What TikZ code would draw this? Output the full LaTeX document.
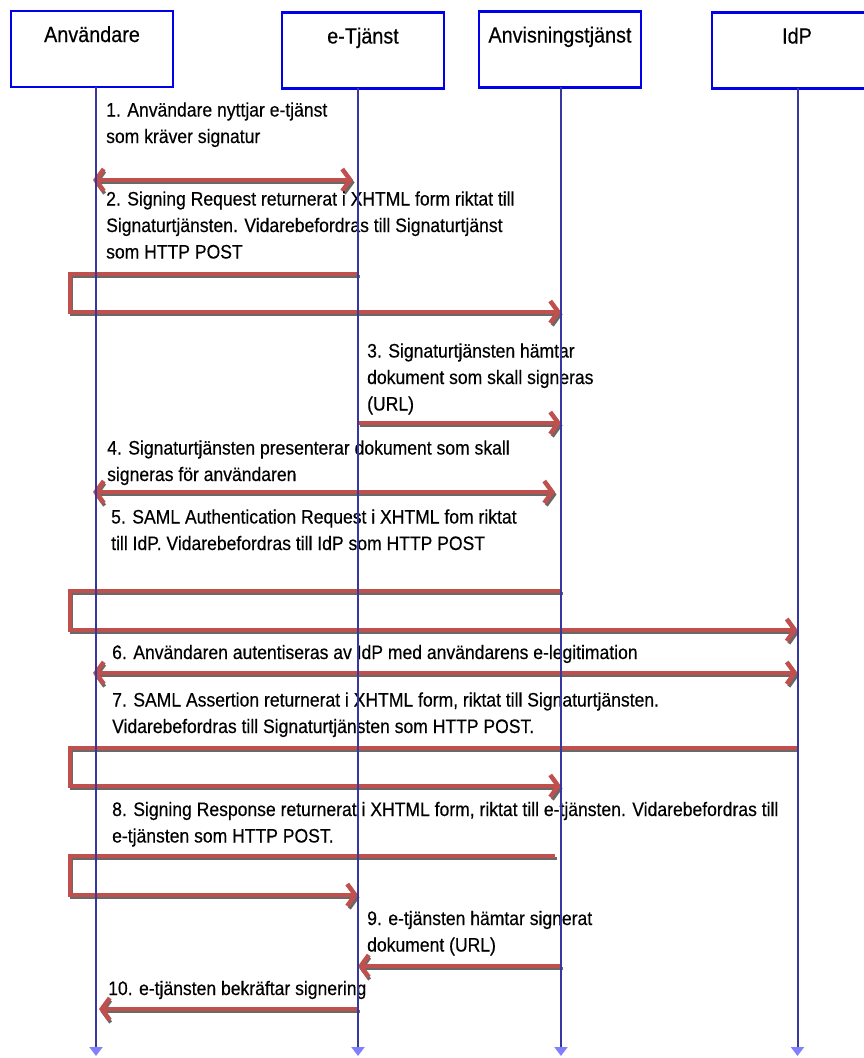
\documentclass[tikz,border=0pt]{standalone}
\usepackage{fontspec}
\setmainfont{Liberation Sans}[FakeStretch=0.9,FakeBold=0.4]
\usetikzlibrary{arrows.meta}
\definecolor{msgred}{RGB}{192,80,77}
\definecolor{shadowgray}{RGB}{105,105,105}
\definecolor{boxblue}{RGB}{0,0,235}
\definecolor{lifeblue}{RGB}{55,55,160}
\tikzset{
  actor/.style={draw=boxblue,line width=2.4pt,minimum width=162pt,minimum height=76pt,
    inner sep=0pt,text height=31pt,text depth=45pt,font=\fontsize{22}{26}\selectfont},
  lifeline/.style={draw=lifeblue,line width=2pt,-{Triangle[width=13pt,length=9pt,color=blue!50]}},
  msgtext/.style={anchor=base west,align=left,inner sep=0pt,font=\fontsize{19.5}{26.5}\selectfont},
  msgline/.style={draw=msgred,line width=4.5pt,
    preaction={draw=shadowgray,line width=3.5pt,transform canvas={shift={(1.5pt,-2.5pt)}}}},
  msg/.style={msgline,-{Straight Barb[length=8pt,width=22pt]}},
  msgboth/.style={msgline,{Straight Barb[length=8pt,width=22pt]}-{Straight Barb[length=8pt,width=22pt]}}
}
\begin{document}
\begin{tikzpicture}[x=1pt,y=-1pt]
  \useasboundingbox (0,0) rectangle (864,1058);
  % participants
  \node[actor] (user) at (92,49) {Användare};
  \node[actor] (etj) at (363,50.5) {e-Tjänst};
  \node[actor] (anv) at (560,49.5) {Anvisningstjänst};
  \node[actor,minimum width=170pt] (idp) at (797,50.5) {IdP};
  % lifeline heads, feet and loop column
  \coordinate (userL) at (96,87);
  \coordinate (etjL) at (358,88);
  \coordinate (anvL) at (561,87);
  \coordinate (idpL) at (797.5,88);
  \coordinate (foot) at (0,1056);
  \coordinate (loop) at (70,0);

  % 1 (text placed by its last baseline)
  \coordinate (y1) at (0,180);
  \node[msgtext] (t1) at (106,143) {1. Användare nyttjar e-tjänst\\som kräver signatur};
  \draw[msgboth,shorten >=5pt,shorten <=-3pt] (userL |- y1) -- (etjL |- y1);
  % 2
  \coordinate (y2a) at (0,274);
  \coordinate (y2b) at (0,312);
  \node[msgtext] (t2) at (106,258.5) {2. Signing Request returnerat i XHTML form riktat till\\Signaturtjänsten. Vidarebefordras till Signaturtjänst\\som HTTP POST};
  \draw[msg] (etjL |- y2a) -| (loop |- y2b) -- (anvL |- y2b);
  % 3
  \coordinate (y3) at (0,423);
  \node[msgtext] (t3) at (367,410.5) {3. Signaturtjänsten hämtar\\dokument som skall signeras\\(URL)};
  \draw[msg] (etjL |- y3) -- (anvL |- y3);
  % 4
  \coordinate (y4) at (0,492);
  \node[msgtext] (t4) at (107,481) {4. Signaturtjänsten presenterar dokument som skall\\signeras för användaren};
  \draw[msgboth,shorten >=6pt,shorten <=-3pt] (userL |- y4) -- (anvL |- y4);
  % 5
  \coordinate (y5a) at (0,591);
  \coordinate (y5b) at (0,630);
  \node[msgtext] (t5) at (111,550) {5. SAML Authentication Request i XHTML fom riktat\\till IdP. Vidarebefordras till IdP som HTTP POST};
  \draw[msg] (anvL |- y5a) -| (loop |- y5b) -- (idpL |- y5b);
  % 6
  \coordinate (y6) at (0,673);
  \node[msgtext] (t6) at (112,659) {6. Användaren autentiseras av IdP med användarens e-legitimation};
  \draw[msgboth,shorten <=-3pt] (userL |- y6) -- (idpL |- y6);
  % 7
  \coordinate (y7a) at (0,748);
  \coordinate (y7b) at (0,786);
  \node[msgtext] (t7) at (112,733) {7. SAML Assertion returnerat i XHTML form, riktat till Signaturtjänsten.\\Vidarebefordras till Signaturtjänsten som HTTP POST.};
  \draw[msg] (idpL |- y7a) -| (loop |- y7b) -- (anvL |- y7b);
  % 8
  \coordinate (y8a) at (0,856);
  \coordinate (y8b) at (0,895);
  \node[msgtext] (t8) at (112,842.5) {8. Signing Response returnerat i XHTML form, riktat till e-tjänsten. Vidarebefordras till\\e-tjänsten som HTTP POST.};
  \draw[msg,shorten <=6pt] (anvL |- y8a) -| (loop |- y8b) -- (etjL |- y8b);
  % 9
  \coordinate (y9) at (0,966);
  \node[msgtext] (t9) at (367,951.5) {9. e-tjänsten hämtar signerat\\dokument (URL)};
  \draw[msg] (anvL |- y9) -- (etjL |- y9);
  % 10
  \coordinate (y10) at (0,1009);
  \node[msgtext] (t10) at (108,995) {10. e-tjänsten bekräftar signering};
  \draw[msg,shorten >=3pt] (etjL |- y10) -- (userL |- y10);

  % lifelines on top
  \foreach \l in {userL,etjL,anvL,idpL}
    \draw[lifeline] (\l) -- (\l |- foot);
\end{tikzpicture}
\end{document}
